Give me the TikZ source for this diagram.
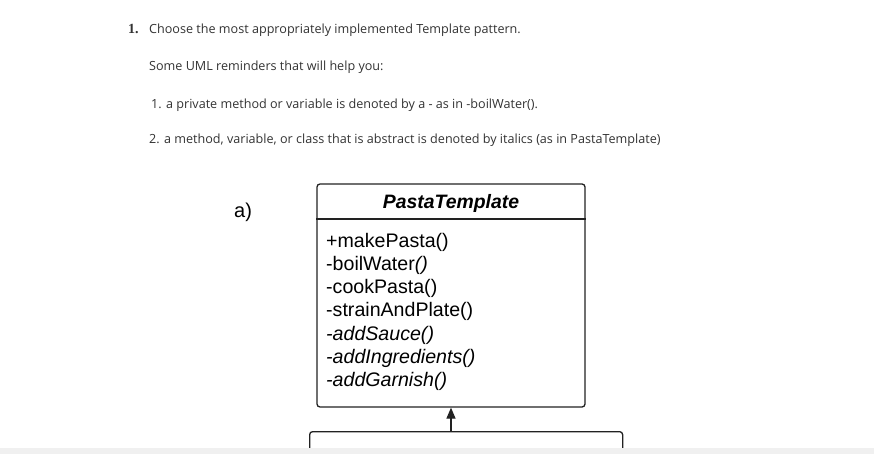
\documentclass[tikz,border=0pt]{standalone}
\usepackage{fontspec}
\setmainfont{Open Sans}
\newfontfamily\umlfont{Liberation Sans}
\newfontfamily\numfont{Liberation Serif}
\usepackage{xcolor}
\usetikzlibrary{shapes,arrows,arrows.meta,positioning,fit,calc}

\definecolor{linegray}{HTML}{222222}
\definecolor{stripgray}{HTML}{F0F0F0}
\definecolor{textgray}{HTML}{333333}

\tikzset{
  question/.style={anchor=base west, inner sep=0, text=textgray, font=\fontsize{12.6}{15}\selectfont},
  classbox/.style={rectangle, draw=linegray, line width=1.3pt, rounded corners=3pt},
  method/.style={anchor=base west, inner sep=0, font=\umlfont\fontsize{19.6}{23.3}\selectfont}
}

\begin{document}
\begin{tikzpicture}[x=1pt, y=-1pt]
    \useasboundingbox (0,0) rectangle (874,454);
    \fill [white] (0,0) rectangle (874,454);

    % question text
    \node (num) [anchor=base west, inner sep=0, text=textgray] at (128,34) {\numfont\bfseries\fontsize{14}{16}\selectfont 1.};
    \node (ask) [question] at (149,34) {Choose the most appropriately implemented Template pattern.};
    \node (remind) [question] at (149,71) {Some UML reminders that will help you:};
    \node (rule1) [question] at (151,109) {1. a private method or variable is denoted by a - as in -boilWater().};
    \node (rule2) [question] at (149,144) {2. a method, variable, or class that is abstract is denoted by italics (as in PastaTemplate)};

    \node (opt) [method, font=\umlfont\fontsize{20}{24}\selectfont] at (234,218) {a)};

    % abstract class
    \node (pasta) [classbox, minimum width=268pt, minimum height=223pt] at (451,295.5) {};
    \node (title) [anchor=base, inner sep=0, font=\umlfont\bfseries\itshape\fontsize{19.4}{23.3}\selectfont] at (451,209) {PastaTemplate};
    \coordinate (sep) at (451,219);
    \draw [linegray, line width=1.3pt] (pasta.west |- sep) -- (pasta.east |- sep);

    \node (m1) [method] at (326,247) {+makePasta()};
    \node (m2) [method] at (326,270.3) {-boilWater\textit{()}};
    \node (m3) [method] at (326,293.6) {-cookPasta()};
    \node (m4) [method] at (326,316.9) {-strainAndPlate()};
    \node (m5) [method] at (326,340.2) {\textit{-addSauce()}};
    \node (m6) [method] at (326,363.5) {\textit{-addIngredients()}};
    \node (m7) [method] at (326,386.8) {\textit{-addGarnish()}};

    % subclass, cut off by the page
    \node (sub) [classbox, anchor=north west, minimum width=313pt, minimum height=40pt] at (309,431) {};
    \draw [linegray, line width=1.3pt, -{Triangle[width=9pt, length=11pt]}] (sub.north -| pasta.south) -- (pasta.south);

    \fill [stripgray] (0,448) rectangle (874,454);
\end{tikzpicture}
\end{document}
